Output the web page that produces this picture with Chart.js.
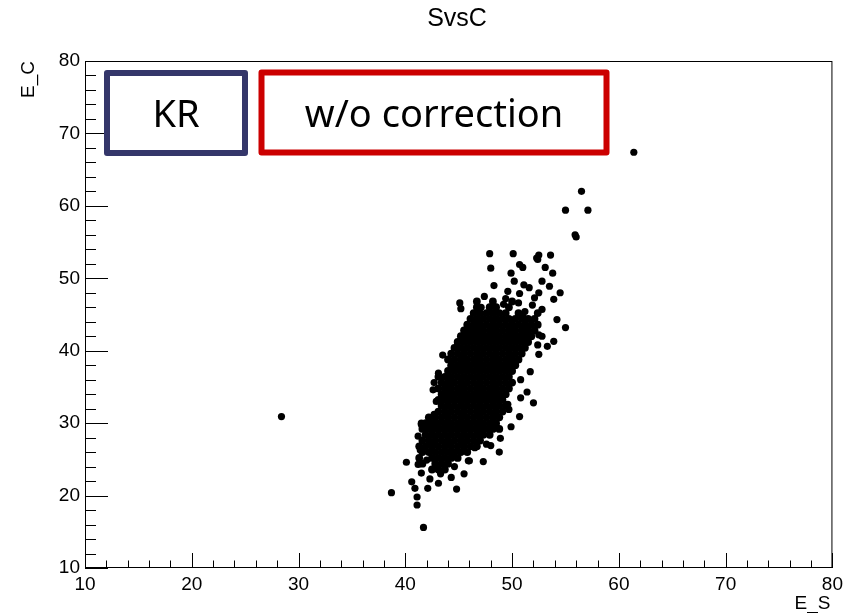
<!DOCTYPE html>
<html>
<head>
<meta charset="utf-8">
<script src="https://cdn.jsdelivr.net/npm/chart.js@4.4.1/dist/chart.umd.min.js"></script>
<style>
  body { margin: 0; background: #fff; }
  #wrap { position: relative; width: 848px; height: 613px; }
</style>
</head>
<body>
<div id="wrap"><canvas id="c" width="848" height="613"></canvas></div>
<script>
// axis ranges / labels
const xRange = [10, 80];
const yRange = [10, 80];
const chartTitle = "SvsC";
const xTitle = "E_S";
const yTitle = "E_C";

// dense core of the cloud, read row by row: [E_C, [E_S ...]]
const coreRows = [
  [46.8, [46.7, 48.2, 50.0]],
  [46.0, [46.7, 47.9, 48.5, 49.7]],
  [45.2, [46.4, 47.0, 47.6, 48.2, 48.8, 49.4, 50.6, 52.4]],
  [44.4, [46.1, 46.7, 47.3, 47.9, 48.5, 49.1, 49.7, 50.3, 50.9, 51.5, 52.1]],
  [43.6, [45.8, 46.4, 47.0, 47.6, 48.2, 48.8, 49.4, 50.0, 50.6, 51.2, 51.8, 52.4]],
  [42.8, [45.5, 46.1, 46.7, 47.3, 47.9, 48.5, 49.1, 49.7, 50.3, 50.9, 51.5, 52.1]],
  [42.0, [45.2, 45.8, 46.4, 47.0, 47.6, 48.2, 48.8, 49.4, 50.0, 50.6, 51.2, 51.8]],
  [41.2, [44.9, 45.5, 46.1, 46.7, 47.3, 47.9, 48.5, 49.1, 49.7, 50.3, 50.9, 51.5]],
  [40.4, [44.6, 45.2, 45.8, 46.4, 47.0, 47.6, 48.2, 48.8, 49.4, 50.0, 50.6, 51.2]],
  [39.6, [44.3, 44.9, 45.5, 46.1, 46.7, 47.3, 47.9, 48.5, 49.1, 49.7, 50.3, 50.9]],
  [38.8, [44.0, 44.6, 45.2, 45.8, 46.4, 47.0, 47.6, 48.2, 48.8, 49.4, 50.0, 50.6]],
  [38.0, [44.3, 44.9, 45.5, 46.1, 46.7, 47.3, 47.9, 48.5, 49.1, 49.7, 50.3]],
  [37.2, [44.0, 44.6, 45.2, 45.8, 46.4, 47.0, 47.6, 48.2, 48.8, 49.4, 50.0]],
  [36.4, [43.1, 43.7, 44.3, 44.9, 45.5, 46.1, 46.7, 47.3, 47.9, 48.5, 49.1, 49.7]],
  [35.6, [43.4, 44.0, 44.6, 45.2, 45.8, 46.4, 47.0, 47.6, 48.2, 48.8, 49.4, 50.0]],
  [34.8, [43.1, 43.7, 44.3, 44.9, 45.5, 46.1, 46.7, 47.3, 47.9, 48.5, 49.1, 49.7]],
  [34.0, [43.4, 44.0, 44.6, 45.2, 45.8, 46.4, 47.0, 47.6, 48.2, 48.8, 49.4]],
  [33.2, [43.1, 43.7, 44.3, 44.9, 45.5, 46.1, 46.7, 47.3, 47.9, 48.5, 49.1]],
  [32.4, [43.4, 44.0, 44.6, 45.2, 45.8, 46.4, 47.0, 47.6, 48.2, 48.8, 49.4]],
  [31.6, [43.1, 43.7, 44.3, 44.9, 45.5, 46.1, 46.7, 47.3, 47.9, 48.5, 49.1]],
  [30.8, [42.2, 42.8, 43.4, 44.0, 44.6, 45.2, 45.8, 46.4, 47.0, 47.6, 48.2, 48.8]],
  [30.0, [41.9, 42.5, 43.1, 43.7, 44.3, 44.9, 45.5, 46.1, 46.7, 47.3, 47.9, 48.5]],
  [29.2, [41.6, 42.2, 42.8, 43.4, 44.0, 44.6, 45.2, 45.8, 46.4, 47.0, 47.6, 48.2, 48.8]],
  [28.4, [41.9, 42.5, 43.1, 43.7, 44.3, 44.9, 45.5, 46.1, 46.7, 47.3, 47.9]],
  [27.6, [41.6, 42.2, 42.8, 43.4, 44.0, 44.6, 45.2, 45.8, 46.4, 47.0]],
  [26.8, [41.3, 41.9, 42.5, 43.1, 43.7, 44.3, 44.9, 45.5, 46.1, 46.7]],
  [26.0, [41.6, 42.2, 42.8, 43.4, 44.0, 44.6, 45.2, 45.8]],
  [25.2, [41.3, 42.5, 43.1, 43.7, 44.3, 44.9]],
  [24.4, [41.6, 42.8, 43.4, 44.0]],
  [23.6, [42.5, 43.1, 43.7]]
];

// scattered points around the core: [E_S, E_C]
const haloPoints = [
  [47.9, 53.4], [48.0, 51.4], [48.3, 49.0], [45.2, 45.8], [46.8, 45.7], [47.1, 46.0],
  [46.6, 44.0], [45.9, 43.1], [46.5, 42.8], [50.1, 53.4], [52.5, 53.2], [53.6, 53.2],
  [52.4, 52.6], [52.3, 52.8], [50.7, 51.9], [51.0, 51.5], [49.9, 50.7], [53.1, 51.5],
  [53.8, 50.7], [50.2, 49.6], [52.8, 49.6], [51.1, 49.1], [53.5, 48.9], [54.5, 48.0],
  [49.6, 48.2], [50.7, 47.9], [51.6, 48.7], [52.5, 48.0], [53.9, 47.1], [52.1, 47.3],
  [52.8, 45.7], [54.2, 44.3], [55.0, 43.2], [52.5, 42.2], [53.9, 41.3], [52.8, 42.0],
  [53.3, 40.6], [52.5, 39.5], [52.4, 40.8], [51.7, 37.1], [51.4, 34.3], [50.8, 33.5],
  [52.0, 32.8], [50.7, 30.9], [49.9, 29.5], [49.7, 31.9], [48.8, 26.0], [48.0, 26.9],
  [47.3, 24.7], [46.0, 24.8], [46.5, 26.6], [40.1, 24.6], [38.7, 20.4], [40.6, 21.9],
  [40.9, 21.0], [41.1, 19.8], [41.1, 18.7], [41.7, 15.6], [42.1, 21.0], [43.1, 21.7],
  [44.8, 20.9], [45.5, 23.0], [45.9, 24.8], [41.5, 23.1], [41.2, 24.3], [41.4, 26.3],
  [41.5, 29.8], [41.2, 28.2], [42.3, 22.3], [43.5, 39.4], [44.3, 37.9], [43.1, 36.9],
  [42.7, 35.6], [44.1, 35.8], [42.6, 34.6], [42.9, 33.0], [42.7, 31.2], [41.5, 30.0],
  [44.8, 40.4], [45.5, 39.7], [46.0, 42.7], [49.4, 47.2], [50.6, 46.6], [51.9, 46.3],
  [50.8, 36.0], [50.4, 38.6], [51.6, 41.9], [49.6, 32.6], [48.9, 27.9], [47.6, 27.1],
  [44.5, 25.5], [45.1, 46.6], [51.0, 44.9], [44.6, 24.0], [47.4, 47.5], [49.2, 46.4],
  [51.2, 45.4], [43.3, 23.0], [44.3, 22.5], [42.0, 24.9]
];

// isolated points far from the cloud: [E_S, E_C]
const outlierPoints = [
  [28.4, 30.9], [61.4, 67.4], [56.5, 62.0], [55.0, 59.4], [57.1, 59.4],
  [55.9, 56.0], [56.0, 55.7]
];

const corePoints = [];
coreRows.forEach(([ec, row]) => row.forEach(es => corePoints.push({ x: es, y: ec })));
const loosePoints = haloPoints.concat(outlierPoints).map(([es, ec]) => ({ x: es, y: ec }));

const labelFont = { family: "'Liberation Sans', Arial, sans-serif", size: 19 };

// ROOT-like frame: ticks pointing inward, titles, and the two annotation boxes
const rootFrame = {
  id: "rootFrame",
  afterDraw(chart) {
    const { ctx, chartArea: a, scales: { x, y } } = chart;
    ctx.save();
    ctx.strokeStyle = "#000";
    ctx.lineWidth = 1;
    ctx.strokeRect(a.left + 0.5, a.top + 0.5, a.right - a.left - 1, a.bottom - a.top - 1);

    ctx.beginPath();
    for (let v = xRange[0]; v <= xRange[1]; v += 2) {
      const p = Math.round(x.getPixelForValue(v)) + 0.5;
      const len = v % 10 === 0 ? 15 : 7.5;
      ctx.moveTo(p, a.bottom);
      ctx.lineTo(p, a.bottom - len);
    }
    for (let v = yRange[0]; v <= yRange[1]; v += 2) {
      const p = Math.round(y.getPixelForValue(v)) + 0.5;
      const len = v % 10 === 0 ? 23 : 11;
      ctx.moveTo(a.left, p);
      ctx.lineTo(a.left + len, p);
    }
    ctx.stroke();

    ctx.fillStyle = "#000";
    ctx.font = "25px 'Liberation Sans', Arial, sans-serif";
    ctx.textAlign = "center";
    ctx.textBaseline = "middle";
    ctx.fillText(chartTitle, 457, 19);

    ctx.font = "19px 'Liberation Sans', Arial, sans-serif";
    ctx.textAlign = "right";
    ctx.textBaseline = "alphabetic";
    ctx.fillText(xTitle, a.right - 2, 609);

    ctx.save();
    ctx.translate(34, a.top);
    ctx.rotate(-Math.PI / 2);
    ctx.textAlign = "right";
    ctx.fillText(yTitle, 0, 0);
    ctx.restore();

    // annotation boxes
    ctx.lineJoin = "round";
    ctx.lineWidth = 6;
    ctx.fillStyle = "#fff";
    ctx.strokeStyle = "#34366a";
    ctx.fillRect(107, 73, 138, 80);
    ctx.strokeRect(107, 73, 138, 80);
    ctx.strokeStyle = "#cc0000";
    ctx.fillRect(261.5, 72.5, 345, 80);
    ctx.strokeRect(261.5, 72.5, 345, 80);

    ctx.fillStyle = "#000";
    ctx.font = "38px 'Noto Sans', 'Open Sans', sans-serif";
    ctx.textAlign = "center";
    ctx.textBaseline = "middle";
    ctx.fillText("KR", 176, 116);
    ctx.fillText("w/o correction", 434, 116);
    ctx.restore();
  }
};

new Chart(document.getElementById("c").getContext("2d"), {
  type: "scatter",
  data: {
    datasets: [
      {
        data: corePoints,
        backgroundColor: "#000",
        borderColor: "#000",
        borderWidth: 0,
        pointRadius: 3.9,
        pointHoverRadius: 3.9
      },
      {
        data: loosePoints,
        backgroundColor: "#000",
        borderColor: "#000",
        borderWidth: 0,
        pointRadius: 3.6,
        pointHoverRadius: 3.6
      }
    ]
  },
  options: {
    responsive: false,
    animation: false,
    events: [],
    layout: { padding: { top: 61, right: 11, left: 0, bottom: 0 } },
    plugins: {
      legend: { display: false },
      tooltip: { enabled: false },
      title: { display: false }
    },
    scales: {
      x: {
        type: "linear",
        min: xRange[0],
        max: xRange[1],
        grid: { display: false, drawTicks: false },
        border: { display: false },
        ticks: { stepSize: 10, padding: 5, color: "#000", font: labelFont, maxRotation: 0, autoSkip: false },
        afterFit(s) { s.height = 45; }
      },
      y: {
        type: "linear",
        min: yRange[0],
        max: yRange[1],
        grid: { display: false, drawTicks: false },
        border: { display: false },
        ticks: { stepSize: 10, padding: 5, color: "#000", font: labelFont, autoSkip: false },
        afterFit(s) { s.width = 85; }
      }
    }
  },
  plugins: [rootFrame]
});
</script>
</body>
</html>
